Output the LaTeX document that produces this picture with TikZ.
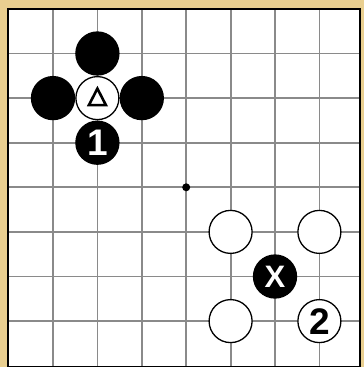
\documentclass[tikz,border=0pt]{standalone}
\usepackage{fontspec}
\newfontfamily\stonefont{Liberation Sans}
\definecolor{tan}{HTML}{E9CF90}
\definecolor{gridgray}{HTML}{8A8A8A}
\tikzset{
  stonebase/.style={circle,minimum size=43pt,inner sep=0pt,line width=1.3pt,font=\stonefont\bfseries\fontsize{37}{37}\selectfont},
  bstone/.style={stonebase,draw=black,fill=black,text=white},
  wstone/.style={stonebase,draw=black,fill=white,text=black},
  gridline/.style={draw=gridgray,line width=1.8pt},
  framebox/.style={draw=black,line width=2.2pt,fill=white},
}
\begin{document}
\begin{tikzpicture}[x=1pt,y=-1pt]
\useasboundingbox (0,0) rectangle (364,367);
\fill[tan] (0,0) rectangle (364,367);
\draw[framebox] (8,9) rectangle (360,367);
\foreach \i in {0,...,6}{
  \draw[gridline] ({53+44.4*\i},10) -- ({53+44.4*\i},366);
  \draw[gridline] (9,{53.5+44.6*\i}) -- (359,{53.5+44.6*\i});
}
\draw[black,line width=2.2pt] (8,9) rectangle (360,367);
\fill[black] (186.2,187.3) circle (4pt);
% stones
\node[bstone] (top) at (97.4,53.5) {};
\node[bstone] (left) at (53,98.1) {};
\node[bstone] (right) at (141.8,98.1) {};
\node[wstone] (tri) at (97.4,98.1) {};
\draw[black,line width=2.6pt,line join=miter] ([yshift=9.5pt]tri.center) -- ([xshift=8.5pt,yshift=-7pt]tri.center) -- ([xshift=-8.5pt,yshift=-7pt]tri.center) -- cycle;
\node[bstone] (one) at (97.4,142.7) {1};
\node[wstone] (wa) at (230.6,231.9) {};
\node[wstone] (wb) at (319.4,231.9) {};
\node[bstone,font=\stonefont\bfseries\fontsize{31}{31}\selectfont] (x) at (275,276.5) {X};
\node[wstone] (wc) at (230.6,321.1) {};
\node[wstone] (two) at (319.4,321.1) {2};
\end{tikzpicture}
\end{document}
